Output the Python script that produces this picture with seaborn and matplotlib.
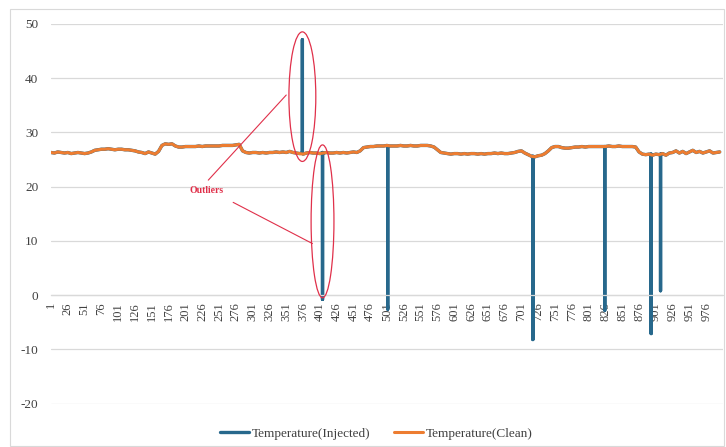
import numpy as np
import pandas as pd
import matplotlib
matplotlib.use("Agg")
import matplotlib.pyplot as plt
from matplotlib.patches import Ellipse, Rectangle
import seaborn as sns

# ---------------- data ----------------
clean_idx = list(range(1, 1001, 5))
clean_val = [
    26.3, 26.2, 26.4, 26.3, 26.2, 26.3, 26.1, 26.2, 26.3, 26.2, 26.1, 26.2,
    26.4, 26.7,
    26.8, 26.9, 26.9, 27.0, 26.9, 26.8, 26.9, 26.9, 26.8, 26.8, 26.7, 26.6,
    26.4, 26.3, 26.1, 26.4, 26.2, 26.0,
    26.5, 27.6, 27.9, 27.8, 27.9, 27.5,
    27.3, 27.3, 27.4, 27.4, 27.4, 27.4, 27.5, 27.4, 27.5, 27.5, 27.5, 27.5,
    27.5, 27.6, 27.6, 27.6, 27.6, 27.7,
    27.8, 26.6,
    26.3, 26.2, 26.3, 26.3, 26.2, 26.3, 26.2, 26.3, 26.3, 26.4, 26.3, 26.4,
    26.3, 26.5, 26.3, 26.2,
    26.1, 26.0, 26.2, 26.3, 26.2, 26.2, 26.1, 26.2, 26.3, 26.2, 26.2, 26.3,
    26.2, 26.3, 26.2, 26.3, 26.4, 26.3,
    26.6, 27.2, 27.3, 27.4, 27.4, 27.5,
    27.5, 27.5, 27.6, 27.5, 27.5, 27.5, 27.6, 27.5, 27.5, 27.6, 27.5, 27.5,
    27.6, 27.6, 27.6, 27.5,
    27.3, 26.8, 26.3, 26.2,
    26.1, 26.0, 26.1, 26.1, 26.0, 26.1, 26.0, 26.1, 26.1, 26.0, 26.1, 26.0,
    26.1, 26.1, 26.2, 26.1, 26.2, 26.1, 26.1, 26.2, 26.3, 26.5,
    26.6, 26.2, 25.9, 25.6, 25.5, 25.7, 25.8, 26.1, 26.6,
    27.2, 27.4, 27.4, 27.2, 27.1, 27.1, 27.2,
    27.3, 27.3, 27.4, 27.3, 27.4, 27.4, 27.4, 27.4, 27.4, 27.4, 27.5, 27.4,
    27.4, 27.5, 27.4, 27.4, 27.4, 27.4, 27.3,
    26.4, 26.0,
    25.9, 26.0, 25.8, 26.0, 25.9, 26.1, 25.8, 26.2,
    26.3, 26.6, 26.2, 26.5, 26.1, 26.4, 26.7, 26.3, 26.5, 26.2, 26.4, 26.6,
    26.2, 26.3, 26.4,
]
assert len(clean_val) == len(clean_idx)

# injected outliers: position, outlier value, clean value at that point
spike_idx = [375, 405, 502, 718, 825, 894, 908]
spike_val = [47.1, -0.8, -2.6, -8.2, -2.8, -7.1, 0.8]
spike_base = [26.2, 26.3, 27.5, 25.6, 27.4, 26.0, 26.0]

tick_labels = [str(v) for v in range(1, 1000, 25)]
tick_pos = list(range(1, 1000, 25))
y_ticks = [-20, -10, 0, 10, 20, 30, 40, 50]

# ---------------- frames ----------------
clean_df = pd.DataFrame({"idx": clean_idx, "val": clean_val, "order": [float(i) for i in clean_idx]})
rows = []
for s, v, b in zip(spike_idx, spike_val, spike_base):
    rows += [(s, b, s - 0.01), (s, v, s), (s, b, s + 0.01)]
spk_df = pd.DataFrame(rows, columns=["idx", "val", "order"])
inj_df = pd.concat([clean_df, spk_df]).sort_values("order").reset_index(drop=True)

# ---------------- plotting ----------------
sns.set_style("white")
plt.rcParams["font.family"] = ["Liberation Serif", "DejaVu Serif"]

BLUE = "#27688c"
ORANGE = "#ED7D31"
GRID = "#d9d9d9"
TXT = "#404040"

fig = plt.figure(figsize=(7.26, 4.47), dpi=100)
ax = fig.add_axes([50.7 / 726, 43.5 / 447, 672 / 726, 379.5 / 447])

sns.lineplot(data=inj_df, x="idx", y="val", sort=False, estimator=None,
             color=BLUE, lw=2.4, ax=ax, label="Temperature(Injected)")
sns.lineplot(data=clean_df, x="idx", y="val", sort=False, estimator=None,
             color=ORANGE, lw=2.2, ax=ax, label="Temperature(Clean)")

for sp in ["top", "right", "left"]:
    ax.spines[sp].set_visible(False)
ax.spines["bottom"].set_position(("data", 0))
ax.spines["bottom"].set_color(GRID)
ax.spines["bottom"].set_linewidth(0.9)

ax.set_xlim(0.5, 1000.5)
ax.set_ylim(-20, 50)
ax.set_yticks(y_ticks)
ax.set_yticklabels([str(t) for t in y_ticks], fontsize=9.5, color=TXT)
ax.set_xticks(tick_pos)
ax.set_xticklabels(tick_labels, rotation=90, fontsize=9, color=TXT)
ax.tick_params(axis="both", length=0)
ax.tick_params(axis="y", pad=9)
ax.tick_params(axis="x", pad=5)
ax.set_xlabel("")
ax.set_ylabel("")
ax.yaxis.grid(True, color=GRID, lw=0.9)
ax.xaxis.grid(False)
ax.set_axisbelow(True)

# annotations
RED = "#e0304a"
ax.add_patch(Ellipse((375, 36.6), 40, 23.9, fill=False, ec=RED, lw=0.9, zorder=5))
ax.add_patch(Ellipse((405, 13.6), 34, 28.2, fill=False, ec=RED, lw=0.9, zorder=5))
ax.text(232, 19.2, "Outliers", color=RED, fontsize=7, ha="center", va="center",
        fontweight="bold")
ax.plot([235, 351], [21.2, 36.9], color=RED, lw=0.8, zorder=5)
ax.plot([272, 390], [17.1, 9.5], color=RED, lw=0.8, zorder=5)

ax.legend(loc="center", bbox_to_anchor=(0.485, -0.08), ncol=2, frameon=False,
          fontsize=9.5, handlelength=2.2, handletextpad=0.2, columnspacing=1.8,
          labelcolor=TXT)

fig.add_artist(Rectangle((10 / 726, 1 / 447), 714 / 726, 437 / 447,
                         transform=fig.transFigure, fill=False, ec="#d9d9d9", lw=0.8))

fig.savefig("out.png", dpi=100)
